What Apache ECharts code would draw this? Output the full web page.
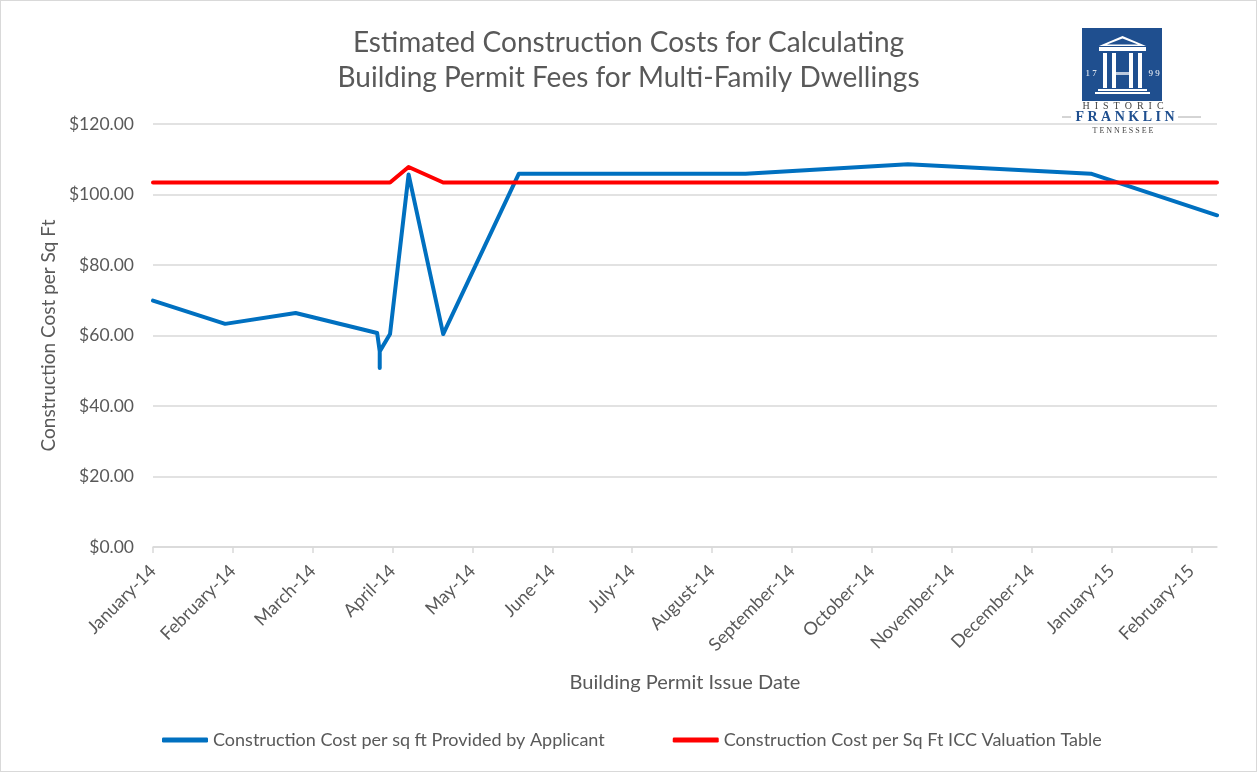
<!DOCTYPE html>
<html>
<head>
<meta charset="utf-8">
<script src="https://cdn.jsdelivr.net/npm/echarts@6/dist/echarts.min.js"></script>
<style>
  html, body { margin: 0; padding: 0; background: #fff; }
  #main { width: 1257px; height: 772px; box-sizing: border-box; border: 1px solid #d9d9d9; }
</style>
</head>
<body>
<div id="main"></div>
<script>
// permit issue dates and cost per sq ft
const issueDates = ['2014-01-01', '2014-01-29', '2014-02-23', '2014-03-26', '2014-03-27', '2014-03-27', '2014-03-27',
  '2014-03-31', '2014-04-07', '2014-04-20', '2014-05-19', '2014-08-14', '2014-10-15', '2014-12-24', '2015-02-10'];
const applicantCost = [69.9, 63.3, 66.4, 60.7, 55.5, 50.8, 55.5, 60.4, 105.7, 60.4, 105.9, 105.9, 108.6, 105.9, 94.1];
const iccCost = [103.4, 103.4, 103.4, 103.4, 103.4, 103.4, 103.4, 103.4, 107.8, 103.4, 103.4, 103.4, 103.4, 103.4, 103.4];
const tickLabels = ['January-14', 'February-14', 'March-14', 'April-14', 'May-14', 'June-14', 'July-14', 'August-14',
  'September-14', 'October-14', 'November-14', 'December-14', 'January-15', 'February-15'];

// month position: whole months since Jan 2014 plus fraction of the month
function monthPos(s) {
  const [y, m, d] = s.split('-').map(Number);
  const days = new Date(y, m, 0).getDate();
  return (y - 2014) * 12 + (m - 1) + (d - 1) / days;
}

const xs = issueDates.map(monthPos);
const font = 'Lato, "Open Sans", sans-serif';
const grey = '#595959';
const serif = '"Liberation Serif", "DejaVu Serif", serif';

const chart = echarts.init(document.getElementById('main'));

chart.setOption({
  animation: false,
  title: {
    text: 'Estimated Construction Costs for Calculating\nBuilding Permit Fees for Multi-Family Dwellings',
    left: 'center',
    top: 19,
    textStyle: { fontFamily: font, fontSize: 28, fontWeight: 'normal', color: grey, lineHeight: 35 }
  },
  legend: {
    left: 156,
    top: 725,
    icon: 'roundRect',
    itemWidth: 46,
    itemHeight: 5,
    itemGap: 68,
    textStyle: { fontFamily: font, fontSize: 18, color: grey }
  },
  grid: { left: 152, right: 39, top: 123, bottom: 224 },
  xAxis: {
    type: 'value',
    min: 0,
    max: xs[xs.length - 1],
    interval: 1,
    name: 'Building Permit Issue Date',
    nameLocation: 'middle',
    nameGap: 126,
    nameTextStyle: { fontFamily: font, fontSize: 20, color: grey },
    axisLine: { lineStyle: { color: '#d9d9d9', width: 1.5 } },
    axisTick: { length: 6, lineStyle: { color: '#d9d9d9', width: 1.5 } },
    splitLine: { show: false },
    axisLabel: {
      rotate: 45,
      margin: 21,
      fontFamily: font,
      fontSize: 18,
      color: grey,
      showMaxLabel: false,
      formatter: v => Number.isInteger(v) ? (tickLabels[v] || '') : ''
    }
  },
  yAxis: {
    type: 'value',
    min: 0,
    max: 120,
    interval: 20,
    name: 'Construction Cost per Sq Ft',
    nameLocation: 'middle',
    nameGap: 94,
    nameTextStyle: { fontFamily: font, fontSize: 19, color: grey },
    axisLine: { show: false },
    axisTick: { show: false },
    splitLine: { lineStyle: { color: '#d9d9d9', width: 1.5 } },
    axisLabel: {
      margin: 19,
      fontFamily: font,
      fontSize: 17.5,
      color: grey,
      formatter: v => '$' + v.toFixed(2)
    }
  },
  series: [
    {
      name: 'Construction Cost per sq ft Provided by Applicant',
      type: 'line',
      symbol: 'none',
      data: xs.map((x, i) => [x, applicantCost[i]]),
      lineStyle: { color: '#0070c0', width: 4, join: 'round', cap: 'round' },
      itemStyle: { color: '#0070c0' }
    },
    {
      name: 'Construction Cost per Sq Ft ICC Valuation Table',
      type: 'line',
      symbol: 'none',
      data: xs.map((x, i) => [x, iccCost[i]]),
      lineStyle: { color: '#ff0000', width: 4, join: 'round', cap: 'round' },
      itemStyle: { color: '#ff0000' }
    }
  ],
  graphic: [
    // Historic Franklin logo
    { type: 'rect', shape: { x: 1081, y: 27, width: 80, height: 73 }, style: { fill: '#1f4f8f' } },
    { type: 'polygon', shape: { points: [[1098, 45], [1121.5, 35], [1145, 45]] }, style: { fill: '#fff' } },
    { type: 'polygon', shape: { points: [[1106, 43.5], [1121.5, 37.5], [1137, 43.5]] }, style: { fill: '#1f4f8f' } },
    { type: 'rect', shape: { x: 1098, y: 46, width: 47, height: 4 }, style: { fill: '#fff' } },
    { type: 'rect', shape: { x: 1102, y: 52, width: 4, height: 35 }, style: { fill: '#fff' } },
    { type: 'rect', shape: { x: 1111, y: 52, width: 4, height: 35 }, style: { fill: '#fff' } },
    { type: 'rect', shape: { x: 1128, y: 52, width: 4, height: 35 }, style: { fill: '#fff' } },
    { type: 'rect', shape: { x: 1137, y: 52, width: 4, height: 35 }, style: { fill: '#fff' } },
    { type: 'rect', shape: { x: 1115, y: 71, width: 13, height: 3 }, style: { fill: '#fff', opacity: 0.7 } },
    { type: 'rect', shape: { x: 1097, y: 88, width: 49, height: 2 }, style: { fill: '#fff' } },
    { type: 'rect', shape: { x: 1094, y: 91, width: 55, height: 2 }, style: { fill: '#fff' } },
    { type: 'text', style: { x: 1090, y: 73, text: '1 7', fill: '#fff', font: '9px ' + serif, textAlign: 'center', textVerticalAlign: 'middle' } },
    { type: 'text', style: { x: 1153, y: 73, text: '9 9', fill: '#fff', font: '9px ' + serif, textAlign: 'center', textVerticalAlign: 'middle' } },
    { type: 'text', style: { x: 1122, y: 105, text: 'H  I  S  T  O  R  I  C', fill: '#444', font: '10px ' + serif, textAlign: 'center', textVerticalAlign: 'middle' } },
    { type: 'text', style: { x: 1124, y: 116, text: 'F R A N K L I N', fill: '#1f4f8f', font: 'bold 14px ' + serif, textAlign: 'center', textVerticalAlign: 'middle' } },
    { type: 'line', shape: { x1: 1177, y1: 116, x2: 1200, y2: 116 }, style: { stroke: '#aaa', lineWidth: 1 } },
    { type: 'line', shape: { x1: 1061, y1: 116, x2: 1070, y2: 116 }, style: { stroke: '#aaa', lineWidth: 1 } },
    { type: 'text', style: { x: 1122, y: 130, text: 'T E N N E S S E E', fill: '#444', font: '8px ' + serif, textAlign: 'center', textVerticalAlign: 'middle' } }
  ]
});
</script>
</body>
</html>
